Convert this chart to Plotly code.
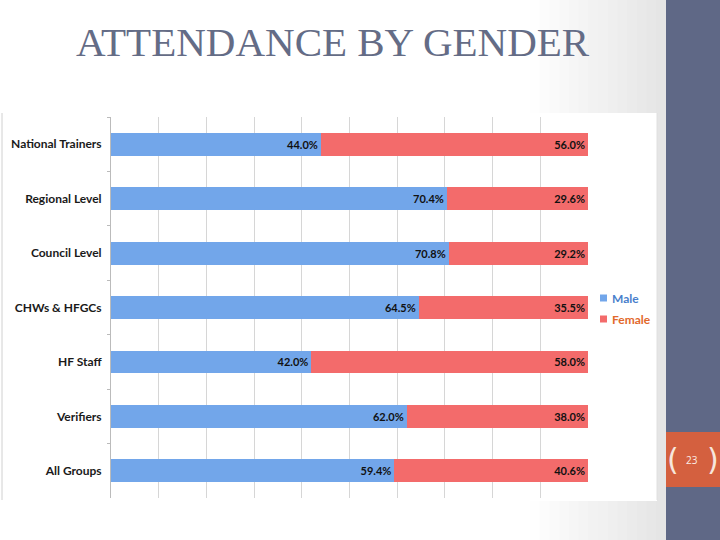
import plotly.graph_objects as go

categories = ["National Trainers", "Regional Level", "Council Level", "CHWs & HFGCs",
              "HF Staff", "Verifiers", "All Groups"]
male = [44.0, 70.4, 70.8, 64.5, 42.0, 62.0, 59.4]
female = [56.0, 29.6, 29.2, 35.5, 58.0, 38.0, 40.6]
series_names = ["Male", "Female"]

W, H = 720, 540
def px(x): return x / W
def py(y): return 1 - y / H

BLUE, RED = "#72A6EA", "#F36B6B"
BLUE_TXT, RED_TXT = "#4A7FCC", "#E2692C"

fig = go.Figure()
fig.add_trace(go.Bar(
    y=categories, x=male, orientation="h", name=series_names[0], showlegend=False,
    marker=dict(color=BLUE, line=dict(width=0)),
    texttemplate="<b>%{x:.1f}%</b>", textposition="inside", insidetextanchor="end",
    textangle=0, textfont=dict(family="Lato", size=11, color="#111111"),
))
fig.add_trace(go.Bar(
    y=categories, x=female, orientation="h", name=series_names[1], showlegend=False,
    marker=dict(color=RED, line=dict(width=0)),
    texttemplate="<b>%{x:.1f}%</b>", textposition="inside", insidetextanchor="end",
    textangle=0, textfont=dict(family="Lato", size=11, color="#111111"),
))

shapes = []
# soft horizontal background gradient towards the sidebar
n = 14
x_start, x_end = 530, 666
for i in range(n):
    x0 = x_start + (x_end - x_start) * i / n
    x1 = x_start + (x_end - x_start) * (i + 1) / n
    g = int(round(255 - (255 - 228) * (i + 0.5) / n))
    shapes.append(dict(type="rect", xref="paper", yref="paper", x0=px(x0), x1=px(x1) + 0.001, y0=0, y1=1,
                       fillcolor=f"rgb({g},{g},{g})", line=dict(width=0), layer="below"))
shapes.append(dict(type="rect", xref="paper", yref="paper", x0=px(1), x1=px(657), y0=py(501), y1=py(113),
                   fillcolor="white", line=dict(width=0), layer="below"))
shapes.append(dict(type="line", xref="paper", yref="paper", x0=px(2), x1=px(2), y0=py(500), y1=py(113),
                   line=dict(color="#D0D0D0", width=1), layer="below"))
shapes.append(dict(type="line", xref="paper", yref="paper", x0=px(657), x1=px(657), y0=py(500), y1=py(113),
                   line=dict(color="#E0E0E0", width=1), layer="below"))
shapes.append(dict(type="rect", xref="paper", yref="paper", x0=px(666), x1=1, y0=0, y1=1,
                   fillcolor="#5F6886", line=dict(width=0)))
shapes.append(dict(type="rect", xref="paper", yref="paper", x0=px(666), x1=1, y0=py(487), y1=py(432),
                   fillcolor="#D4603F", line=dict(width=0)))
# legend swatches
for (yc, col) in [(298, BLUE), (319, RED)]:
    shapes.append(dict(type="rect", xref="paper", yref="paper", x0=px(600), x1=px(607),
                       y0=py(yc + 3.5), y1=py(yc - 3.5), fillcolor=col, line=dict(width=0)))

annotations = [
    dict(text="ATTENDANCE BY GENDER", xref="paper", yref="paper", x=px(333), y=py(42),
         showarrow=False, font=dict(family="Liberation Serif", size=41, color="#646C86"),
         xanchor="center", yanchor="middle"),
    dict(text="23", xref="paper", yref="paper", x=px(692), y=py(460), showarrow=False,
         font=dict(family="Open Sans", size=10, color="#FBEDE6"), xanchor="center", yanchor="middle"),
    dict(text="(", xref="paper", yref="paper", x=px(673), y=py(459), showarrow=False,
         font=dict(family="DejaVu Sans", size=30, color="#F7E6DC"), xanchor="center", yanchor="middle"),
    dict(text=")", xref="paper", yref="paper", x=px(713), y=py(459), showarrow=False,
         font=dict(family="DejaVu Sans", size=30, color="#F7E6DC"), xanchor="center", yanchor="middle"),
    dict(text="<b>" + series_names[0] + "</b>", xref="paper", yref="paper", x=px(610), y=py(298),
         showarrow=False, xanchor="left", yanchor="middle",
         font=dict(family="Lato", size=12, color=BLUE_TXT)),
    dict(text="<b>" + series_names[1] + "</b>", xref="paper", yref="paper", x=px(610), y=py(319),
         showarrow=False, xanchor="left", yanchor="middle",
         font=dict(family="Lato", size=12, color=RED_TXT)),
]

fig.update_layout(
    width=W, height=H, margin=dict(l=0, r=0, t=0, b=0),
    paper_bgcolor="white", plot_bgcolor="rgba(0,0,0,0)",
    barmode="stack", bargap=0.58,
    showlegend=False,
    shapes=shapes, annotations=annotations,
    font=dict(family="Lato"),
)
fig.update_xaxes(domain=[px(111), px(588)], range=[0, 100], dtick=10, showticklabels=False,
                 showgrid=True, gridcolor="#D6D6D6", gridwidth=1, zeroline=False, ticks="",
                 fixedrange=True)
fig.update_yaxes(domain=[py(498), py(117)], type="category", categoryorder="array",
                 categoryarray=categories, autorange="reversed",
                 tickson="boundaries", ticks="outside", ticklen=3, tickcolor="#BBBBBB",
                 showline=True, linecolor="#BBBBBB", linewidth=1, showgrid=False,
                 tickfont=dict(family="Lato", size=12, color="#1A1A1A", weight="bold"),
                 ticklabelstandoff=6)

fig.write_html("out.html", config={"displayModeBar": False},
               post_script="document.body.style.margin='0';document.body.style.overflow='hidden';")
